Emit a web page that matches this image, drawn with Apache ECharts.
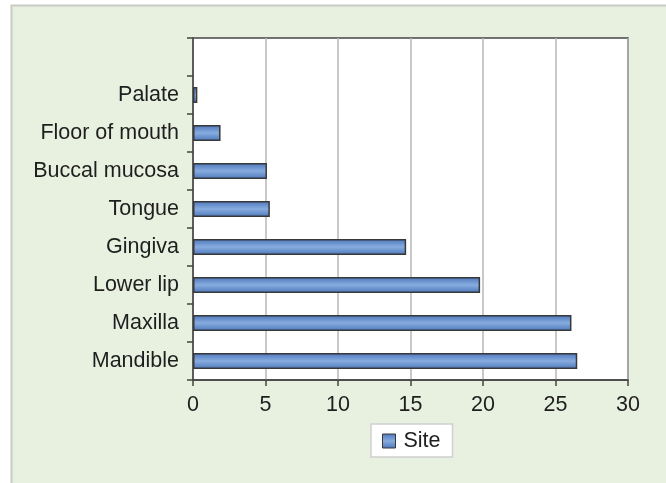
<!DOCTYPE html>
<html>
<head>
<meta charset="utf-8">
<script src="https://cdn.jsdelivr.net/npm/echarts@6/dist/echarts.min.js"></script>
<style>
  html, body { margin: 0; padding: 0; background: #ffffff; }
  #chart { width: 666px; height: 483px; }
</style>
</head>
<body>
<div id="chart"></div>
<script>
// Lesion site counts, listed from the bottom of the chart upward
const sites = ['Mandible', 'Maxilla', 'Lower lip', 'Gingiva', 'Tongue', 'Buccal mucosa', 'Floor of mouth', 'Palate'];
const counts = [26.5, 26.1, 19.8, 14.7, 5.3, 5.1, 1.9, 0.3];
const seriesName = 'Site';
const xTicks = [0, 5, 10, 15, 20, 25, 30];

// one blank slot keeps an empty row above the top bar
const categories = sites.concat(['']);
const values = counts.concat([null]);

const font = '"Liberation Sans", Arial, sans-serif';
const fontSize = 21.5;
const textColor = '#1e1e1e';
const barFill = new echarts.graphic.LinearGradient(0, 0, 0, 1, [
  { offset: 0, color: '#4a76ba' },
  { offset: 0.5, color: '#88acdf' },
  { offset: 1, color: '#4a76ba' }
]);

const chart = echarts.init(document.getElementById('chart'), null, { renderer: 'canvas' });
chart.setOption({
  animation: false,
  backgroundColor: '#ffffff',
  graphic: [{
    type: 'rect',
    z: -10,
    silent: true,
    shape: { x: 11.5, y: 5.5, width: 660, height: 500 },
    style: { fill: '#e8f1e0', stroke: '#c9cbc6', lineWidth: 2 }
  }],
  grid: {
    left: 193, right: 38, top: 38, bottom: 103,
    show: true,
    backgroundColor: '#ffffff',
    borderColor: '#444444',
    borderWidth: 1.5
  },
  legend: {
    data: [seriesName],
    top: 424,
    left: 371,
    itemWidth: 13,
    itemHeight: 14,
    itemGap: 0,
    padding: [6, 12, 5, 11],
    backgroundColor: '#ffffff',
    borderColor: '#cfcfcf',
    borderWidth: 1.5,
    borderRadius: 0,
    icon: 'rect',
    itemStyle: { borderColor: '#383838', borderWidth: 1 },
    textStyle: { fontFamily: font, fontSize: fontSize, lineHeight: 20, color: textColor, padding: [0, 0, 0, 3] }
  },
  xAxis: {
    type: 'value',
    min: xTicks[0],
    max: xTicks[xTicks.length - 1],
    interval: xTicks[1] - xTicks[0],
    axisLine: { show: true, lineStyle: { color: '#444444', width: 1.5 } },
    axisTick: { show: true, length: 6, lineStyle: { color: '#444444', width: 1.5 } },
    axisLabel: { fontFamily: font, fontSize: fontSize, color: textColor, margin: 14 },
    splitLine: { show: true, lineStyle: { color: '#b7b7b7', width: 1.5 } }
  },
  yAxis: {
    type: 'category',
    data: categories,
    boundaryGap: true,
    axisLine: { show: true, lineStyle: { color: '#444444', width: 1.5 } },
    axisTick: { show: true, length: 6, lineStyle: { color: '#444444', width: 1.5 } },
    axisLabel: { fontFamily: font, fontSize: fontSize, color: textColor, margin: 14 },
    splitLine: { show: false }
  },
  series: [{
    name: seriesName,
    type: 'bar',
    data: values,
    barWidth: 16,
    itemStyle: {
      color: barFill,
      borderColor: '#383838',
      borderWidth: 1.5
    }
  }]
});
</script>
</body>
</html>
